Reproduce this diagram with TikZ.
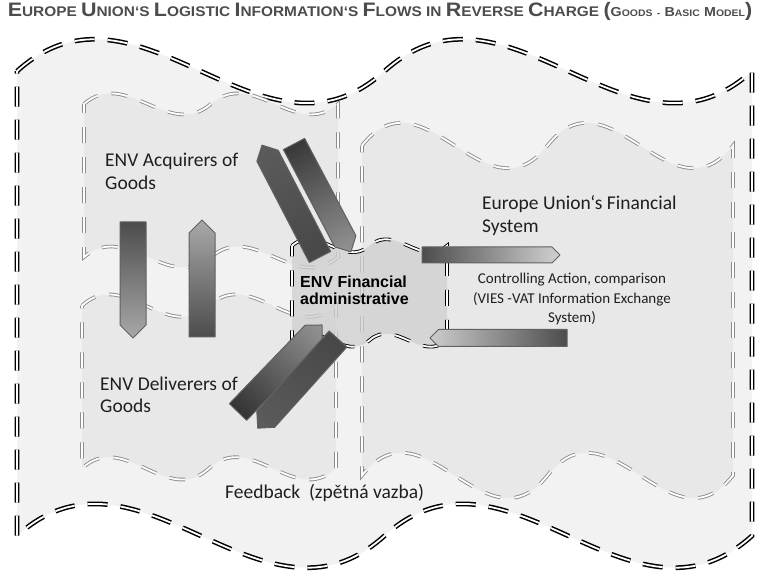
\documentclass[tikz,border=0pt]{standalone}
\usepackage{fontspec}
\setmainfont{Carlito}
\newfontfamily\arialfont{Liberation Sans}
\usetikzlibrary{positioning}
\colorlet{outerfill}{black!5}
\colorlet{panelfill}{black!9}
\colorlet{adminfill}{black!19}
\colorlet{panelline}{black!45}
\colorlet{titlegray}{black!70}
\tikzset{ % wave shapes, block arrows and texts
  wave/.style={line width=#1,double=white,double distance=1.8pt},
  outer wave/.style={wave=1.5pt,draw=black,fill=outerfill,dash pattern=on 20pt off 13pt},
  panel wave/.style={wave=0.9pt,draw=panelline,fill=panelfill,dash pattern=on 16pt off 14pt},
  admin wave/.style={wave=0.9pt,draw=black,fill=adminfill,fill opacity=0.75,dash pattern=on 16pt off 14pt},
  block arrow/.style={draw=black!62,line width=1pt,line join=round},
  my text/.style={inner sep=0,align=left,font=\fontsize{19.5}{23}\selectfont,text=black!88}
}
% double wave: options, left, top, width, height
\newcommand{\dwave}[5]{%
  \path[#1] ({#2},{#3+#5/16})
    .. controls ({#2+#4/6},{#3+#5/16-#5*10/48}) and ({#2+#4/3},{#3+#5/16+#5*10/48}) .. ({#2+#4/2},{#3+#5/16})
    .. controls ({#2+2*#4/3},{#3+#5/16-#5*10/48}) and ({#2+5*#4/6},{#3+#5/16+#5*10/48}) .. ({#2+#4},{#3+#5/16})
    -- ({#2+#4},{#3+#5-#5/16})
    .. controls ({#2+5*#4/6},{#3+#5-#5/16+#5*10/48}) and ({#2+2*#4/3},{#3+#5-#5/16-#5*10/48}) .. ({#2+#4/2},{#3+#5-#5/16})
    .. controls ({#2+#4/3},{#3+#5-#5/16+#5*10/48}) and ({#2+#4/6},{#3+#5-#5/16-#5*10/48}) .. ({#2},{#3+#5-#5/16})
    -- cycle;}
\newcommand{\tsc}[2]{{\fontsize{19.5}{20}\selectfont#1}{\fontsize{14}{20}\selectfont#2}}
\newcommand{\psc}[2]{{\fontsize{13}{20}\selectfont#1}{\fontsize{9.5}{20}\selectfont#2}}

\begin{document}
\begin{tikzpicture}[x=1pt,y=-1pt]
\useasboundingbox (0,0) rectangle (758,577);

% frames
\dwave{outer wave}{17}{38}{735}{531}
\dwave{panel wave}{84}{93}{254}{175}
\dwave{panel wave}{82}{294}{254}{186}
\dwave{panel wave}{362}{122}{371}{377}
\dwave{admin wave}{292}{239}{155}{108}

% block arrows: tail / angle / length / width / tail, middle, tip colours
\foreach \x/\y/\a/\l/\w/\ca/\cb/\cc in {
  133/222/-90/116/26/black!70/black!52/black!34,
  202/337/90/117/26/black!70/black!52/black!34,
  320/257/117.4/126/24/black!72/black!34/black!64,
  294/144/-62.2/122/24/black!78/black!60/black!42,
  238/412/46/121/24/black!80/black!62/black!42,
  338/339/-132/120/24/black!72/black!34/black!64,
  422/255/0/138/16/black!70/black!45/black!18,
  567/338/180/137/17/black!70/black!45/black!20}
{
  \begin{scope}[transform canvas={shift={(\x,\y)},rotate=\a}]
    \shade[block arrow,left color=\ca,middle color=\cb,right color=\cc]
      (0,-\w/2) -- (\l-\w/2,-\w/2) -- (\l,0) -- (\l-\w/2,\w/2) -- (0,\w/2) -- cycle;
  \end{scope}
}

% texts (base = last line)
\node[my text,anchor=base west] (acq)  at (105,190) {ENV Acquirers of\\Goods};
\node[my text,anchor=base west] (del)  at (100,413) {ENV Deliverers of\\Goods};
\node[my text,anchor=base west] (eufs) at (482,233) {Europe Union‘s Financial\\System};
\node[my text,anchor=base,align=center,font=\fontsize{15}{19.5}\selectfont] (ctrl) at (572,323)
  {Controlling Action, comparison\\(VIES -VAT Information Exchange\\System)};
\node[my text,anchor=base west,font=\arialfont\bfseries\fontsize{16}{17}\selectfont,text=black] (fin) at (300,305)
  {ENV Financial\\administrative};
\node[my text,anchor=base west] (fb) at (225,498) {Feedback\ \ (zpětná vazba)};
\node[anchor=base,inner sep=0,text=titlegray,font=\arialfont\bfseries\fontsize{14}{20}\selectfont] (title) at (380,17)
  {\scalebox{1.1}[1]{\tsc{E}{UROPE} \tsc{U}{NION‘S} \tsc{L}{OGISTIC} \tsc{I}{NFORMATION‘S} \tsc{F}{LOWS} \tsc{}{IN}
   \tsc{R}{EVERSE} \tsc{C}{HARGE} \tsc{(}{}\psc{G}{OODS} \psc{}{-} \psc{B}{ASIC} \psc{M}{ODEL}\tsc{)}{}}};
\end{tikzpicture}
\end{document}
